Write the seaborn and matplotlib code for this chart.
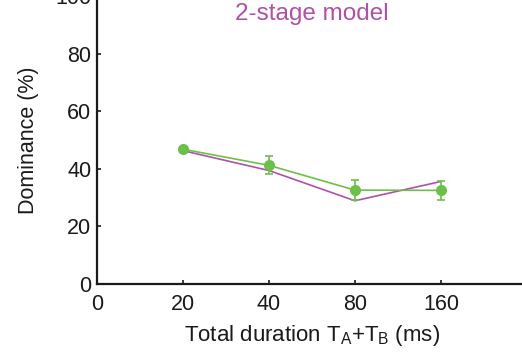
import matplotlib
matplotlib.use("Agg")
import matplotlib.pyplot as plt
import seaborn as sns
import pandas as pd
import numpy as np

durations = ["20", "40", "80", "160"]
tick_labels = ["0", "20", "40", "80", "160"]
data_vals = [46.8, 41.2, 32.6, 32.5]
data_err = [0.0, 3.1, 3.6, 3.3]
model_vals = [46.3, 39.4, 28.9, 35.6]

sns.set_style("ticks")
plt.rcParams['font.family'] = ['Liberation Sans', 'DejaVu Sans']
plt.rcParams['mathtext.fontset'] = 'custom'
plt.rcParams['mathtext.rm'] = 'Liberation Sans'

green = "#6CC04A"
magenta = "#B050A8"
dark = "#1a1a1a"

fig = plt.figure(figsize=(5.22, 3.54), dpi=100)
W, H = 522, 354
left_px, right_px, bottom_px, top_px = 97, 527, 284, -4
ax = fig.add_axes([left_px / W, 1 - bottom_px / H, (right_px - left_px) / W, (bottom_px - top_px) / H])

pos = np.arange(1, len(durations) + 1)
df = pd.DataFrame({"pos": pos, "data": data_vals, "model": model_vals})

sns.lineplot(data=df, x="pos", y="model", ax=ax, color=magenta, linewidth=1.2, zorder=2)
sns.lineplot(data=df, x="pos", y="data", ax=ax, color=green, linewidth=1.2, marker="o",
             markersize=8, markeredgewidth=0, zorder=3)
ax.errorbar(pos, data_vals, yerr=data_err, fmt="none", ecolor=green, elinewidth=1.2,
            capsize=3, capthick=1.2, zorder=3)

ax.set_xlim(0, 5)
ax.set_ylim(0, 100)
ax.set_xticks(range(len(tick_labels)))
ax.set_xticklabels(tick_labels)
ax.set_yticks([0, 20, 40, 60, 80, 100])
ax.tick_params(direction="in", length=3, width=1.2, labelsize=15.5, colors=dark)
ax.tick_params(axis="y", pad=4)
ax.tick_params(axis="x", pad=7)
for s in ["left", "bottom"]:
    ax.spines[s].set_linewidth(1.6)
    ax.spines[s].set_color(dark)
for s in ["top", "right"]:
    ax.spines[s].set_visible(False)

ax.set_xlabel(r"Total duration T$_\mathregular{A}$+T$_\mathregular{B}$ (ms)", fontsize=16, color=dark, labelpad=6)
ax.set_ylabel("Dominance (%)", fontsize=15.5, color=dark, labelpad=12)

fig.text(312 / W, 1 - 14 / H, "2-stage model", color=magenta, fontsize=17.5, ha="center", va="center")

fig.savefig("out.png", dpi=100)
